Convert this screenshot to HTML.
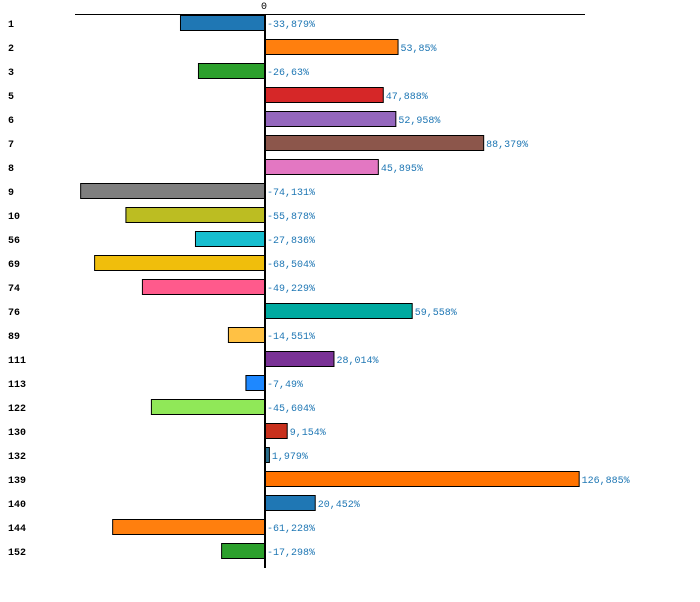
<!DOCTYPE html>
<html><head><meta charset="utf-8"><style>
body{margin:0;background:#fff;width:700px;height:597px;overflow:hidden}
svg text{font-family:"Liberation Mono","DejaVu Sans Mono",monospace;font-size:10px}
</style></head><body>
<svg id="c" width="700" height="597"></svg>
<script>
const categories=["1","2","3","5","6","7","8","9","10","56","69","74","76","89","111","113","122","130","132","139","140","144","152"];
const values=[-33.879,53.85,-26.63,47.888,52.958,88.379,45.895,-74.131,-55.878,-27.836,-68.504,-49.229,59.558,-14.551,28.014,-7.49,-45.604,9.154,1.979,126.885,20.452,-61.228,-17.298];
const labels=["-33,879%","53,85%","-26,63%","47,888%","52,958%","88,379%","45,895%","-74,131%","-55,878%","-27,836%","-68,504%","-49,229%","59,558%","-14,551%","28,014%","-7,49%","-45,604%","9,154%","1,979%","126,885%","20,452%","-61,228%","-17,298%"];
const colors=["#1f77b4","#ff7f0e","#2ca02c","#d62728","#9467bd","#8c564b","#e377c2","#7f7f7f","#bcbd22","#17becf","#f0be0c","#ff5a8c","#00aaa0","#ffc144","#7a3296","#1e88ff","#90e858","#c8301c","#2a6e8c","#ff7300","#1f77b4","#ff7f0e","#2ca02c"];
const NS="http://www.w3.org/2000/svg",svg=document.getElementById('c');
const x0=264,k=2.48,top0=15,step=24,bh=15;
const X=v=>x0+v*k, Y=i=>top0+i*step;
function mk(t,a){const e=document.createElementNS(NS,t);for(const n in a)e.setAttribute(n,a[n]);svg.appendChild(e);return e;}
let l=mk('line',{x1:75,x2:585,y1:14.5,y2:14.5,stroke:'#000'});


let t=mk('text',{x:264,y:9,'text-anchor':'middle'});t.textContent='0';


values.forEach((v,i)=>{
 const r=mk('rect',{x:Math.min(X(v),x0)+0.5,y:Y(i)+0.5,width:Math.abs(X(v)-x0),height:bh,fill:colors[i],stroke:'#000'});
 
 
 const c=mk('text',{x:8,y:Y(i)+12,'font-weight':'bold','font-size':'11px'});c.textContent=categories[i];
 
 
 const vl=mk('text',{x:(v>0?X(v):x0)+3,y:Y(i)+12,fill:'#1f77b4'});vl.textContent=labels[i];
 
 
});
const a=mk('line',{x1:265,x2:265,y1:14,y2:568,stroke:'#000','stroke-width':2});


</script>
</body></html>
